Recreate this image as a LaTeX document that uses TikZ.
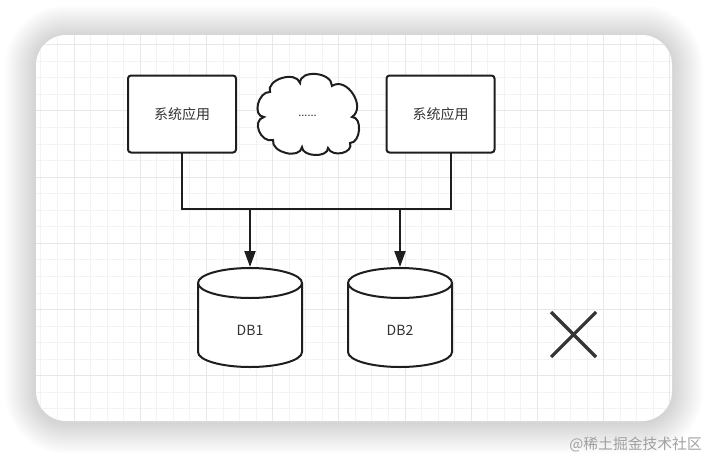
\documentclass[tikz,border=0pt]{standalone}
\usepackage{fontspec}
\setmainfont{Noto Sans CJK SC}
\usetikzlibrary{arrows.meta,calc}
\definecolor{ink}{HTML}{1E1E1E}
\definecolor{txt}{HTML}{333333}
\definecolor{minorg}{HTML}{F4F2F4}
\definecolor{majorg}{HTML}{E7E7E7}
\definecolor{wmark}{HTML}{A0A0A0}
\tikzset{
  appbox/.style={draw=ink, line width=2pt, rounded corners=3pt, fill=white,
    minimum width=108pt, minimum height=77pt, inner sep=0pt, outer sep=0pt,
    font=\fontsize{14pt}{16pt}\selectfont, text=txt},
  dbnode/.style={minimum width=106pt, minimum height=101pt, inner sep=0pt, outer sep=0pt,
    text height=35pt, text depth=0pt, font=\fontsize{14pt}{16pt}\selectfont, text=txt},
  dbline/.style={draw=ink, line width=2pt},
  conn/.style={draw=ink, line width=2pt},
  arr/.style={draw=ink, line width=2pt, -{Triangle[width=11pt,length=16pt]}},
  minorline/.style={draw=minorg, line width=0.9pt},
  majorline/.style={draw=majorg, line width=1pt},
  xmarkline/.style={draw=ink!90, line width=3.2pt},
}
\newcommand\dbcylinder[1]{%
  \begin{scope}[shift={(#1.center)}]
    \draw[dbline, fill=white] (-52,-34.5) -- (-52,34.5)
      arc[start angle=180, end angle=360, x radius=52pt, y radius=15pt]
      -- (52,-34.5)
      arc[start angle=0, end angle=180, x radius=52pt, y radius=15pt] -- cycle;
    \draw[dbline] (-52,-34.5) arc[start angle=180, end angle=360, x radius=52pt, y radius=15pt];
  \end{scope}}
\begin{document}
\begin{tikzpicture}[x=1pt,y=-1pt]
  \useasboundingbox (0,0) rectangle (708,458);
  \fill[white] (0,0) rectangle (708,458);
  % shadow
  \foreach \k [evaluate=\k as \r using 30+2.2*\k] in {1,...,14}
    \fill[black, opacity=0.010, rounded corners=\r pt]
      ({36-2.2*\k},{35-2.2*\k+1.5}) rectangle ({672+2.2*\k},{421+2.2*\k+1.5});
  % card
  \fill[white, rounded corners=30pt] (36,35) rectangle (672,421);
  \begin{scope}
    \clip[rounded corners=30pt] (36,35) rectangle (672,421);
    \foreach \i in {0,...,41}
      \draw[minorline] ({7.8+16.55*\i},30) -- ({7.8+16.55*\i},430);
    \foreach \j in {0,...,25}
      \draw[minorline] (30,{11.6+16.55*\j}) -- (680,{11.6+16.55*\j});
    \foreach \i in {0,...,10}
      \draw[majorline] ({7.8+66.2*\i},30) -- ({7.8+66.2*\i},430);
    \foreach \j in {0,...,6}
      \draw[majorline] (30,{44.7+66.2*\j}) -- (680,{44.7+66.2*\j});
  \end{scope}
  % application boxes
  \node[appbox] (b1) at (182,114) {系统应用};
  \node[appbox] (b2) at (440.5,114) {系统应用};
  % cloud
  \draw[ink, line width=2pt, fill=white]
    (270,92) .. controls (266,79.3) and (296,70.3) .. (300,83)
    .. controls (300,69) and (332,72) .. (332,86)
    .. controls (346.7,76) and (366.7,107) .. (352,117)
    .. controls (362.7,117) and (360.7,143) .. (350,143)
    .. controls (354,153) and (332,158) .. (328,148)
    .. controls (328,158) and (302,157) .. (302,147)
    .. controls (300,159.7) and (271,152.7) .. (273,140)
    .. controls (260.3,143.3) and (251.3,120.3) .. (264,117)
    .. controls (252,116.3) and (258,91.3) .. (270,92) -- cycle;
  \node[font=\fontsize{11pt}{13pt}\selectfont, text=txt] (cl) at (307.5,116) {......};
  % databases
  \node[dbnode] (db1) at (250,317.5) {};
  \node[dbnode] (db2) at (400,317.5) {};
  \dbcylinder{db1}
  \dbcylinder{db2}
  \node[dbnode] at (db1.center) {DB1};
  \node[dbnode] at (db2.center) {DB2};
  % connectors
  \coordinate (jr) at (451,209);
  \draw[conn] (b1.south) |- (jr) -- (b2.south -| jr);
  \draw[arr] (db1.north |- jr) -- (db1.north);
  \draw[arr] (db2.north |- jr) -- (db2.north);
  % cross
  \draw[xmarkline] (551,312) -- (596,357);
  \draw[xmarkline] (551,357) -- (596,312);
  % watermark
  \node[anchor=east, inner sep=0pt, text=wmark, font=\fontsize{14.8pt}{16pt}\selectfont] (wm) at (702,444) {@稀土掘金技术社区};
\end{tikzpicture}
\end{document}
